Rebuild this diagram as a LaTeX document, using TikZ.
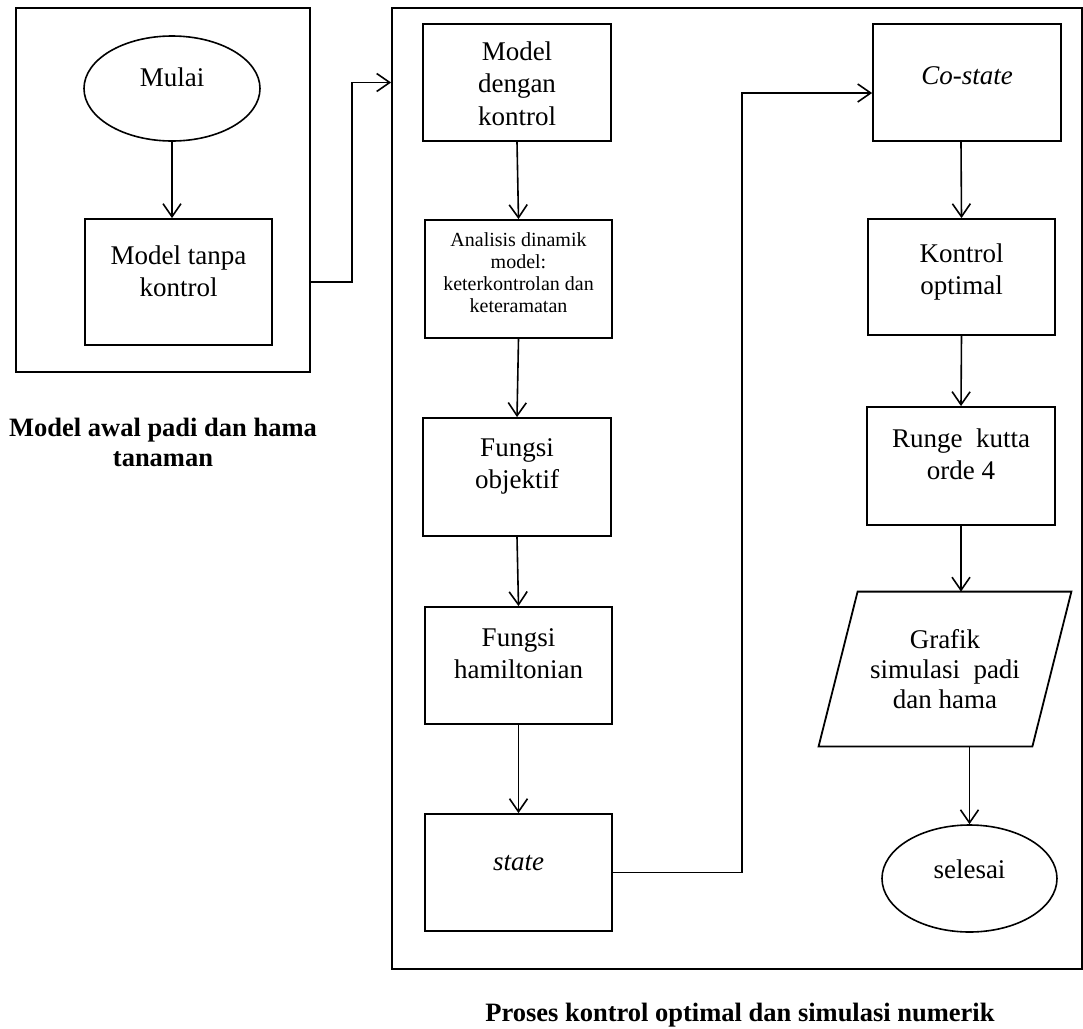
\documentclass[tikz,border=0pt]{standalone}
\usepackage{fontspec}
\setmainfont{Liberation Serif}
\usetikzlibrary{arrows.meta,shapes.geometric}
\newcommand\mainsz{\fontsize{13.5pt}{16.25pt}\selectfont}
\newcommand\smallsz{\fontsize{10pt}{11pt}\selectfont}
\newcommand\capsz{\fontsize{13.25pt}{15pt}\selectfont\bfseries}
\begin{document}
\begin{tikzpicture}[x=0.5pt,y=-0.5pt,
  bx/.style={draw, rectangle, inner sep=0pt, line width=0.9pt},
  frm/.style={draw, rectangle, inner sep=0pt, line width=0.9pt},
  ell/.style={draw, ellipse, inner sep=0pt, line width=0.8pt},
  tx/.style={anchor=north, inner sep=0pt, align=center, font=\mainsz},
  arr/.style={-{Straight Barb[length=6.5pt,width=9pt]}, line width=0.8pt},
  lnk/.style={line width=0.8pt}]
\useasboundingbox (0,0) rectangle (1083,1029);

% frames
\node[frm, minimum width=147pt, minimum height=182pt] (leftframe) at (163,190) {};
\node[frm, minimum width=345pt, minimum height=480.5pt] (rightframe) at (737,488.5) {};

% left part
\node[ell, minimum width=88pt, minimum height=52.5pt] (mulai) at (172,88.5) {};
\node[font=\mainsz, inner sep=0pt] (mulaitxt) at ([yshift=5.5pt]mulai.center) {Mulai};
\node[bx, minimum width=93.5pt, minimum height=63pt] (tanpa) at (178.5,282) {};
\node[tx] (tanpatxt) at (178.5,245) {Model tanpa\\kontrol};

% column 1
\node[bx, minimum width=94pt, minimum height=58.5pt] (dengan) at (517,82.5) {};
\node[tx] (dengantxt) at (517,41) {Model\\dengan\\kontrol};
\node[bx, minimum width=93.5pt, minimum height=59pt] (analisis) at (518.5,279) {};
\node[tx, font=\smallsz] (analisistxt) at (518.5,232) {Analisis dinamik\\model:\\keterkontrolan dan\\keteramatan};
\node[bx, minimum width=94pt, minimum height=59pt] (objektif) at (517,477) {};
\node[tx] (objektiftxt) at (517,438) {Fungsi\\objektif};
\node[bx, minimum width=93.5pt, minimum height=58.5pt] (hamilton) at (518.5,665.5) {};
\node[tx] (hamiltontxt) at (518.5,628) {Fungsi\\hamiltonian};
\node[bx, minimum width=93.5pt, minimum height=58.5pt] (state) at (518.5,872.5) {};
\node[tx] (statetxt) at (518.5,855) {\textit{state}};

% column 2
\node[bx, minimum width=94pt, minimum height=58.5pt] (costate) at (967,82.5) {};
\node[tx] (costatetxt) at (967,66) {\textit{Co-state}};
\node[bx, minimum width=93.5pt, minimum height=58pt] (kontrol) at (961.5,277) {};
\node[tx] (kontroltxt) at (961.5,243) {Kontrol\\optimal};
\node[bx, minimum width=94pt, minimum height=59pt] (runge) at (961,466) {};
\node[tx] (rungetxt) at (961,428) {Runge\ \ kutta\\orde 4};
\node[inner sep=0pt, minimum width=126pt, minimum height=77pt, align=center,
      font=\fontsize{13.5pt}{15pt}\selectfont] (grafik) at (945,669)
      {Grafik\\simulasi\ \ padi\\dan hama};
\draw[line width=0.9pt] ([xshift=19.5pt]grafik.north west) -- (grafik.north east)
  -- ([xshift=-19.5pt]grafik.south east) -- (grafik.south west) -- cycle;
\node[ell, minimum width=87.5pt, minimum height=53.5pt] (selesai) at (969.5,878.5) {};
\node[font=\mainsz, inner sep=0pt] (selesaitxt) at ([yshift=4.5pt]selesai.center) {selesai};

% captions
\node[tx, font=\capsz] (cap1) at (163,418) {Model awal padi dan hama\\tanaman};
\node[anchor=base, inner sep=0pt, font=\capsz] (cap2) at (740,1021) {Proses kontrol optimal dan simulasi numerik};

% connectors
\draw[arr] (mulai.south) -- (mulai.south |- tanpa.north);
\draw[arr] (leftframe.east |- tanpa.east) -- ++(41,0) |- (rightframe.west |- dengan.west);
\draw[arr] (dengan.south) -- (analisis.north);
\draw[arr] (analisis.south) -- (objektif.north);
\draw[arr] (objektif.south) -- (hamilton.north);
\draw[arr] (hamilton.south) -- (state.north);
\draw[arr] (state.east) -- ++(129,0) |- ([yshift=-5.25pt]costate.west);
\draw[arr] ([xshift=-3pt]costate.south) -- (kontrol.north);
\draw[arr] (kontrol.south) -- (runge.north);
\draw[arr] (runge.south) -- (runge.south |- grafik.north);
\draw[arr] (selesai.north |- grafik.south) -- (selesai.north);
\end{tikzpicture}
\end{document}
